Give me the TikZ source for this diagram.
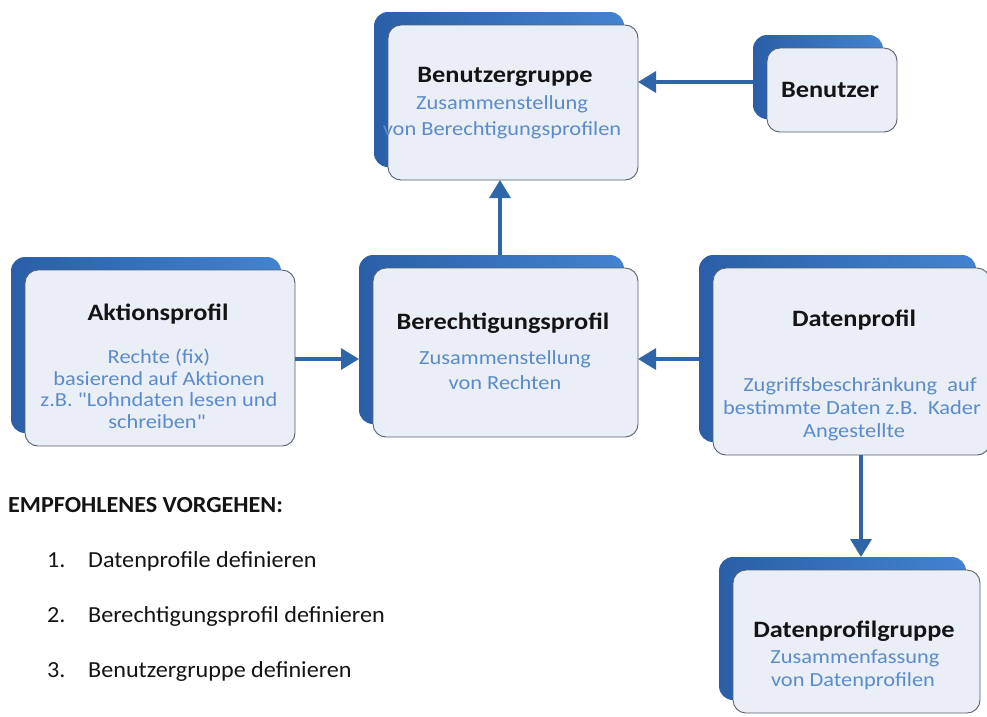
\documentclass[tikz,border=0pt]{standalone}
\usepackage{fontspec}
\setmainfont{Carlito}
\newfontfamily\boxfont[FakeStretch=1.12]{Carlito}
\newfontfamily\listfont[FakeStretch=1.05]{Carlito}
\usetikzlibrary{arrows.meta}
\definecolor{bluedark}{HTML}{2A5FA8}
\definecolor{bluelight}{HTML}{4383CF}
\definecolor{boxfill}{HTML}{EAEFF7}
\definecolor{boxline}{HTML}{56616C}
\definecolor{subblue}{HTML}{5B8BCA}
\definecolor{arrowblue}{HTML}{2F65A9}
\definecolor{txtdark}{HTML}{141414}
\tikzset{
  backbox/.style={rounded corners=14pt, left color=bluedark, right color=bluelight, draw=none, inner sep=0pt, outer sep=0pt},
  frontbox/.style={rounded corners=13pt, fill=boxfill, draw=boxline, line width=0.9pt, inner sep=0pt, outer sep=0pt},
  ttl/.style={anchor=base, inner sep=0pt, text=txtdark, font=\boxfont\bfseries\fontsize{23.5}{28}\selectfont},
  sub/.style={anchor=base, inner sep=0pt, text=subblue, font=\boxfont\fontsize{20}{24}\selectfont},
  lst/.style={anchor=base west, inner sep=0pt, text=txtdark, font=\listfont\fontsize{23}{27}\selectfont},
  lsthead/.style={anchor=base west, inner sep=0pt, text=txtdark, font=\listfont\bfseries\fontsize{23}{27}\selectfont},
  arr/.style={draw=arrowblue, line width=3.3pt, -{Triangle[length=18pt,width=21pt]}},
}
\newcommand\mkbox[5]{%
  \node[backbox, minimum width=#4, minimum height=#5] (#1-back) at (#2-14,#3-13) {};
  \node[frontbox, minimum width=#4, minimum height=#5] (#1) at (#2,#3) {};
}
\begin{document}
\begin{tikzpicture}[x=1pt,y=-1pt]
\useasboundingbox[fill=white] (0,0) rectangle (987,716);

% boxes
\mkbox{bg}{513}{102.5}{250}{155}
\mkbox{ub}{832}{90}{130}{84}
\mkbox{ap}{160}{358}{270}{176}
\mkbox{bp}{505.5}{352.5}{265}{169}
\mkbox{dp}{851.5}{361.5}{277}{187}
\mkbox{dg}{856.5}{641.5}{247}{143}

% box texts
\node[ttl] (bg-t) at (505,82) {Benutzergruppe};
\node[sub] (bg-s1) at (502,109) {Zusammenstellung};
\node[sub] (bg-s2) at (502,135) {von Berechtigungsprofilen};

\node[ttl] (ub-t) at (830,97) {Benutzer};

\node[ttl] (ap-t) at (158,320) {Aktionsprofil};
\node[sub] (ap-s1) at (159,363) {Rechte (fix)};
\node[sub] (ap-s2) at (159,385) {basierend auf Aktionen};
\node[sub] (ap-s3) at (159,406.5) {z.B. "Lohndaten lesen und};
\node[sub] (ap-s4) at (157,428) {schreiben"};

\node[ttl] (bp-t) at (503,329) {Berechtigungsprofil};
\node[sub] (bp-s1) at (505,364) {Zusammenstellung};
\node[sub] (bp-s2) at (505,389) {von Rechten};

\node[ttl] (dp-t) at (854,326) {Datenprofil};
\node[sub] (dp-s1) at (860,391) {Zugriffsbeschränkung\ \ auf};
\node[sub] (dp-s2) at (852,414) {bestimmte Daten z.B.\ \ Kader};
\node[sub] (dp-s3) at (854,437) {Angestellte};

\node[ttl] (dg-t) at (854,637) {Datenprofilgruppe};
\node[sub] (dg-s1) at (855,663) {Zusammenfassung};
\node[sub] (dg-s2) at (853,686) {von Datenprofilen};

% arrows
\coordinate (ua) at (0,82);
\coordinate (va) at (500,0);
\coordinate (ha) at (0,359);
\coordinate (da) at (861,0);
\draw[arr] (ub-back.west |- ua) -- (bg.east |- ua);
\draw[arr] (bp-back.north -| va) -- (bg.south -| va);
\draw[arr] (ap.east |- ha) -- (bp-back.west |- ha);
\draw[arr] (dp-back.west |- ha) -- (bp.east |- ha);
\draw[arr] (dp.south -| da) -- (dg-back.north -| da);

% list
\node[lsthead] (h) at (8,512) {EMPFOHLENES VORGEHEN:};
\node[lst] (n1) at (47,567) {1.};
\node[lst] (l1) at (88,567) {Datenprofile definieren};
\node[lst] (n2) at (47,622) {2.};
\node[lst] (l2) at (88,622) {Berechtigungsprofil definieren};
\node[lst] (n3) at (47,677) {3.};
\node[lst] (l3) at (88,677) {Benutzergruppe definieren};
\end{tikzpicture}
\end{document}
